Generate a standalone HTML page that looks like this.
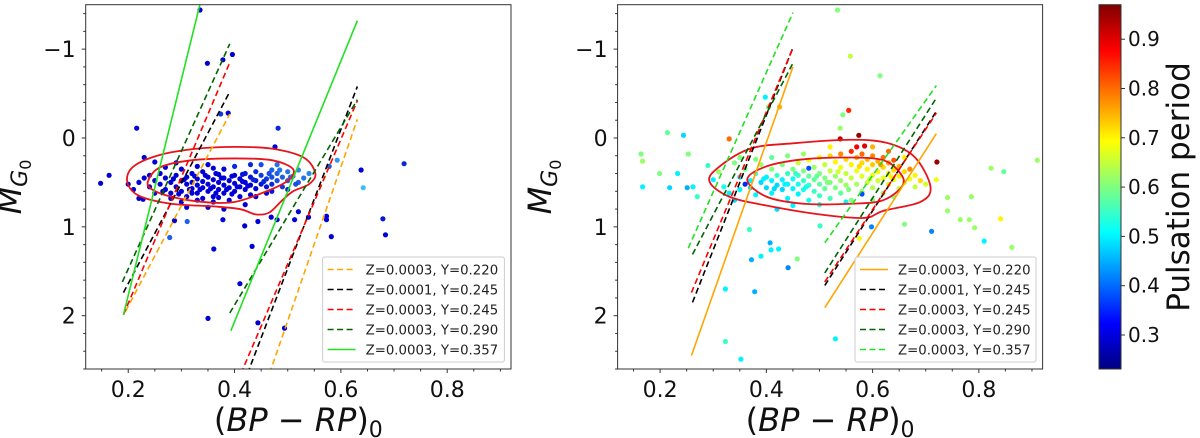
<!DOCTYPE html>
<html><head><meta charset="utf-8">
<style>
html,body{margin:0;padding:0;background:#fff;}
svg{display:block;font-family:"DejaVu Sans","Liberation Sans",sans-serif;}
</style></head>
<body>
<svg id="fig" width="1200" height="438" viewBox="0 0 1200 438" xmlns="http://www.w3.org/2000/svg"></svg>
<script>
// ---------- data ----------
const xTicks = [0.2, 0.4, 0.6, 0.8];
const yTicks = [-1, 0, 1, 2];
const cbTicks = [0.3, 0.4, 0.5, 0.6, 0.7, 0.8, 0.9];
const legendLabels = ["Z=0.0003, Y=0.220","Z=0.0001, Y=0.245","Z=0.0003, Y=0.245","Z=0.0003, Y=0.290","Z=0.0003, Y=0.357"];
// left panel tracks: [x1,y1,x2,y2]
const leftOrange = [[0.195,1.95,0.391,-0.27],[0.46,2.75,0.631,-0.21]];
const leftBlack  = [[0.191,1.74,0.391,-0.52],[0.418,2.75,0.631,-0.58]];
const leftRed    = [[0.191,1.99,0.391,-0.85],[0.405,2.75,0.631,-0.42]];
const leftDkGreen= [[0.189,1.62,0.391,-1.06],[0.391,1.97,0.631,-0.43]];
const leftLime   = [[0.191,1.99,0.345,-1.75],[0.393,2.17,0.631,-1.32]];
// right panel tracks
const rightOrange = [[0.259,2.45,0.450,-0.80],[0.510,1.91,0.720,-0.05]];
const rightBlack  = [[0.261,1.85,0.449,-1.00],[0.510,1.66,0.720,-0.30]];
const rightRed    = [[0.259,1.74,0.449,-1.00],[0.510,1.62,0.720,-0.28]];
const rightDkGreen= [[0.261,1.31,0.449,-0.83],[0.510,1.52,0.720,-0.45]];
const rightLime   = [[0.253,1.24,0.450,-1.41],[0.510,1.18,0.720,-0.59]];
// contours (closed, data coords)
const leftOuter = [[0.198,0.49],[0.21,0.32],[0.26,0.19],[0.33,0.12],[0.40,0.10],[0.47,0.12],[0.53,0.22],[0.552,0.40],[0.54,0.52],[0.51,0.60],[0.49,0.70],[0.465,0.84],[0.44,0.86],[0.41,0.80],[0.36,0.77],[0.28,0.74],[0.22,0.65]];
const leftInner = [[0.237,0.49],[0.26,0.33],[0.32,0.25],[0.40,0.23],[0.47,0.25],[0.51,0.35],[0.50,0.48],[0.46,0.60],[0.40,0.72],[0.34,0.72],[0.28,0.66],[0.245,0.58]];
const rightOuter = [[0.293,0.49],[0.31,0.33],[0.37,0.12],[0.45,0.06],[0.56,0.02],[0.63,0.06],[0.68,0.22],[0.709,0.55],[0.69,0.72],[0.62,0.82],[0.584,0.90],[0.50,0.86],[0.40,0.76],[0.33,0.66]];
const rightInner = [[0.364,0.47],[0.40,0.32],[0.47,0.24],[0.56,0.22],[0.62,0.25],[0.65,0.38],[0.657,0.53],[0.62,0.70],[0.56,0.74],[0.47,0.74],[0.40,0.66]];
// left scatter [x, y, shade(0 dark blue ..1 light blue)]
const leftPts = [[0.335,-1.44,0],[0.349,-0.84,0],[0.378,-0.88,0],[0.396,-0.94,0],[0.388,-0.28,0],[0.374,-0.27,0.3],[0.216,-0.11,0],[0.482,-0.11,0.2],[0.476,0.10,0],[0.148,0.51,0],[0.164,0.42,0],[0.719,0.29,0.2],[0.638,0.36,0],[0.642,0.56,1],[0.679,0.91,0.1],[0.684,1.09,0],[0.582,1.11,0],[0.573,0.92,0],[0.573,0.88,0],[0.593,0.25,0.8],[0.578,0.32,0.5],[0.539,0.89,0],[0.513,0.92,0],[0.52,0.83,0],[0.469,0.89,0],[0.48,0.92,0],[0.444,0.94,0],[0.419,0.99,0],[0.433,1.22,0],[0.361,1.25,0],[0.278,1.12,0.5],[0.311,0.94,0.5],[0.378,0.92,0],[0.287,0.93,0],[0.350,2.03,0],[0.41,1.64,0],[0.444,2.08,0],[0.494,2.14,0],[0.228,0.69,0],[0.23,0.22,0],
[0.22,0.50,0],[0.23,0.45,0],[0.24,0.55,0],[0.25,0.48,0],[0.26,0.52,0],[0.26,0.40,0],[0.27,0.58,0],[0.27,0.45,0],[0.28,0.50,0],[0.28,0.62,0],[0.29,0.42,0],[0.29,0.55,0],[0.30,0.48,0],[0.30,0.35,0],[0.30,0.60,0],[0.31,0.52,0],[0.31,0.44,0],[0.31,0.66,0],[0.32,0.40,0],[0.32,0.50,0],[0.32,0.57,0],[0.33,0.46,0],[0.33,0.53,0],[0.33,0.62,0],[0.34,0.38,0],[0.34,0.49,0],[0.34,0.56,0],[0.35,0.44,0],[0.35,0.52,0],[0.35,0.60,0],[0.35,0.30,0],[0.36,0.47,0],[0.36,0.55,0],[0.36,0.66,0],[0.37,0.41,0],[0.37,0.50,0],[0.37,0.58,0],[0.38,0.45,0],[0.38,0.53,0],[0.38,0.62,0],[0.38,0.35,0],[0.39,0.48,0],[0.39,0.56,0],[0.40,0.42,0],[0.40,0.51,0],[0.40,0.60,0],[0.40,0.32,0.2],[0.41,0.46,0],[0.41,0.55,0],[0.42,0.40,0.1],[0.42,0.50,0],[0.42,0.58,0],[0.43,0.44,0.1],[0.43,0.53,0],[0.43,0.64,0],[0.44,0.38,0.2],[0.44,0.48,0.1],[0.44,0.57,0],[0.45,0.42,0.3],[0.45,0.52,0.1],[0.45,0.30,0.4],[0.46,0.46,0.3],[0.46,0.55,0.1],[0.47,0.36,0.5],[0.47,0.44,0.4],[0.47,0.52,0.2],[0.48,0.40,0.5],[0.48,0.48,0.4],[0.48,0.30,0.6],[0.49,0.44,0.5],[0.49,0.55,0.3],[0.50,0.38,0.6],[0.50,0.48,0.5],[0.51,0.43,0.6],[0.52,0.36,0.7],[0.52,0.50,0.5],[0.53,0.45,0.6],[0.54,0.40,0.7],[0.41,0.66,0],[0.39,0.70,0],[0.36,0.72,0],[0.33,0.70,0],[0.30,0.72,0],[0.28,0.68,0],[0.25,0.62,0],[0.24,0.42,0],[0.27,0.33,0],[0.33,0.32,0],[0.36,0.34,0],[0.43,0.30,0.2],[0.46,0.62,0],[0.44,0.66,0],[0.50,0.58,0.2],[0.47,0.60,0.1],[0.25,0.27,0],[0.29,0.28,0],[0.35,0.78,0],[0.31,0.78,0],[0.38,0.80,0],[0.42,0.75,0],[0.21,0.58,0],[0.20,0.52,0],[0.22,0.68,0],[0.32,0.62,0],[0.34,0.68,0],[0.37,0.67,0],[0.305,0.47,0],[0.315,0.58,0],[0.345,0.42,0],[0.355,0.57,0],[0.365,0.40,0],[0.385,0.58,0],[0.395,0.43,0],[0.405,0.55,0],[0.415,0.41,0.1],[0.425,0.54,0],[0.435,0.47,0.2],[0.455,0.49,0.2],[0.465,0.40,0.4],[0.485,0.36,0.6],[0.505,0.44,0.6],[0.515,0.52,0.4],[0.325,0.43,0],[0.335,0.58,0],[0.375,0.45,0],[0.365,0.62,0],[0.395,0.63,0],[0.415,0.49,0],[0.285,0.46,0],[0.295,0.63,0],[0.265,0.60,0]];
// right scatter [x, y, period]
const rightPts = [[0.164,0.18,0.6],[0.167,0.26,0.62],[0.167,0.55,0.5],[0.199,0.40,0.6],[0.214,-0.06,0.58],[0.244,-0.03,0.48],[0.253,0.18,0.6],[0.218,0.56,0.48],[0.251,0.56,0.45],[0.262,0.55,0.5],[0.270,0.66,0.55],[0.233,0.40,0.5],[0.33,0.01,0.8],[0.398,-0.46,0.5],[0.404,-0.35,0.6],[0.425,-0.35,0.75],[0.558,-0.92,0.65],[0.614,-0.70,0.6],[0.534,-1.44,0.6],[0.555,-0.31,0.85],[0.544,-0.26,0.6],[0.539,-0.11,0.62],[0.539,0.01,0.92],[0.574,-0.03,0.95],[0.585,0.09,0.9],[0.721,0.27,0.95],[0.91,0.25,0.62],[0.823,0.34,0.62],[0.847,0.38,0.58],[0.741,0.67,0.62],[0.741,0.82,0.62],[0.786,0.66,0.62],[0.765,0.92,0.62],[0.782,0.92,0.62],[0.792,1.01,0.62],[0.841,0.91,0.7],[0.862,1.23,0.62],[0.81,1.16,0.5],[0.711,1.05,0.42],[0.66,0.97,0.6],[0.598,1.00,0.42],[0.575,1.13,0.68],[0.501,0.99,0.55],[0.458,1.36,0.6],[0.423,1.25,0.5],[0.407,1.18,0.45],[0.409,1.26,0.5],[0.390,1.33,0.5],[0.372,1.37,0.45],[0.368,1.03,0.55],[0.378,1.73,0.45],[0.323,1.70,0.5],[0.323,2.29,0.55],[0.352,2.49,0.5],[0.53,2.26,0.5],[0.441,1.46,0.42],[0.29,0.31,0.55],[0.30,0.47,0.5],[0.31,0.38,0.62],[0.32,0.55,0.52],[0.33,0.62,0.5],[0.34,0.28,0.6],[0.34,0.70,0.48],[0.35,0.44,0.5],[0.35,0.58,0.5],[0.36,0.35,0.6],
[0.37,0.48,0.5],[0.37,0.56,0.48],[0.38,0.40,0.55],[0.38,0.64,0.5],[0.39,0.30,0.62],[0.39,0.50,0.48],[0.40,0.44,0.5],[0.40,0.56,0.48],[0.41,0.35,0.6],[0.41,0.48,0.5],[0.41,0.62,0.5],[0.42,0.42,0.55],[0.42,0.53,0.48],[0.43,0.30,0.6],[0.43,0.47,0.5],[0.43,0.58,0.48],[0.44,0.40,0.55],[0.44,0.52,0.5],[0.44,0.68,0.5],[0.45,0.35,0.6],[0.45,0.46,0.52],[0.45,0.57,0.5],[0.46,0.28,0.65],[0.46,0.42,0.55],[0.46,0.52,0.52],[0.46,0.63,0.5],[0.47,0.37,0.6],[0.47,0.48,0.55],[0.47,0.58,0.52],[0.48,0.25,0.68],[0.48,0.43,0.58],[0.48,0.53,0.55],[0.48,0.70,0.52],[0.49,0.33,0.62],[0.49,0.47,0.58],[0.49,0.60,0.55],[0.50,0.22,0.7],[0.50,0.40,0.6],[0.50,0.52,0.58],[0.50,0.65,0.55],[0.51,0.30,0.65],[0.51,0.45,0.6],[0.51,0.57,0.58],[0.52,0.20,0.72],[0.52,0.37,0.65],[0.52,0.50,0.6],[0.52,0.68,0.56],[0.53,0.27,0.7],[0.53,0.43,0.62],[0.53,0.56,0.6],[0.54,0.18,0.78],[0.54,0.33,0.68],[0.54,0.48,0.62],[0.54,0.62,0.58],[0.55,0.24,0.72],[0.55,0.40,0.65],[0.55,0.53,0.62],[0.56,0.15,0.85],[0.56,0.30,0.7],[0.56,0.45,0.65],[0.56,0.70,0.6],[0.57,0.22,0.75],[0.57,0.37,0.68],[0.57,0.52,0.63],[0.58,0.18,0.8],[0.58,0.28,0.72],[0.58,0.43,0.67],[0.58,0.60,0.62],[0.59,0.24,0.75],[0.59,0.35,0.7],[0.59,0.50,0.65],[0.60,0.20,0.78],[0.60,0.30,0.73],[0.60,0.42,0.68],[0.60,0.56,0.64],[0.61,0.26,0.75],[0.61,0.38,0.7],[0.61,0.48,0.66],[0.62,0.22,0.8],[0.62,0.33,0.72],[0.62,0.45,0.68],[0.62,0.62,0.62],[0.63,0.28,0.76],[0.63,0.40,0.7],[0.63,0.52,0.66],[0.64,0.25,0.82],[0.64,0.36,0.72],[0.64,0.47,0.68],[0.65,0.32,0.75],[0.65,0.43,0.7],[0.65,0.57,0.65],[0.66,0.38,0.72],[0.66,0.50,0.66],[0.67,0.35,0.78],[0.67,0.46,0.68],[0.68,0.42,0.7],[0.68,0.55,0.65],[0.69,0.48,0.72],[0.70,0.52,0.66],[0.72,0.47,0.68],[0.36,0.52,0.35],[0.48,0.34,0.38],[0.58,0.63,0.38],[0.55,0.72,0.5],[0.50,0.75,0.52],[0.45,0.76,0.5],[0.42,0.80,0.48],[0.60,0.70,0.6],[0.64,0.66,0.6],[0.47,0.18,0.62],[0.44,0.20,0.6],[0.41,0.22,0.58],[0.38,0.24,0.6],[0.35,0.22,0.6],[0.52,0.10,0.7],[0.57,0.10,0.88],[0.60,0.10,0.75],[0.63,0.15,0.8],[0.66,0.22,0.7],[0.395,0.46,0.5],[0.415,0.57,0.48],[0.435,0.52,0.5],[0.455,0.40,0.55],[0.475,0.55,0.52],[0.495,0.43,0.58],[0.515,0.50,0.6],[0.535,0.38,0.66],[0.555,0.58,0.6],[0.575,0.32,0.72],[0.595,0.46,0.66],[0.615,0.30,0.76],[0.635,0.44,0.7]];

// ---------- helpers ----------
const NS = "http://www.w3.org/2000/svg";
const svg = document.getElementById('fig');
function mk(tag, attrs, parent){const e=document.createElementNS(NS,tag);for(const k in attrs)e.setAttribute(k,attrs[k]);(parent||svg).appendChild(e);return e;}
function jet(t){t=Math.max(0,Math.min(1,t));const c=v=>Math.round(255*Math.max(0,Math.min(1,v)));
  return `rgb(${c(1.5-Math.abs(4*t-3))},${c(1.5-Math.abs(4*t-2))},${c(1.5-Math.abs(4*t-1))})`;}
const PMIN=0.231, PMAX=0.97;
const XMIN=0.12, XMAX=0.92, YMIN=-1.5, YMAX=2.6;
const TOP=4.7, BOT=369;

function panel(id, L, R, tracks, styles, outer, inner, pts, colorFn, legendBox, yLabelX, legendDash){
  const g = mk('g',{});
  
  
  const sx = v => L + (v-XMIN)/(XMAX-XMIN)*(R-L);
  const sy = v => TOP + (v-YMIN)/(YMAX-YMIN)*(BOT-TOP);
  const clip = mk('clipPath',{id:id+'-clip'},g);
  mk('rect',{x:L,y:TOP,width:R-L,height:BOT-TOP},clip);
  const plot = mk('g',{'clip-path':`url(#${id}-clip)`},g);
  
  
  pts.forEach(p=>{
    const c = mk('circle',{cx:sx(p[0]).toFixed(1),cy:sy(p[1]).toFixed(1),r:2.6,fill:colorFn(p[2])},plot);
    
    
  });
  [outer,inner].forEach((poly,i)=>{
    const P = poly.map(q=>[sx(q[0]),sy(q[1])]); const n=P.length;
    let d=`M${P[0][0]},${P[0][1]}`;
    for(let k=0;k<n;k++){const p0=P[(k-1+n)%n],p1=P[k],p2=P[(k+1)%n],p3=P[(k+2)%n];
      d+=` C${p1[0]+(p2[0]-p0[0])/6},${p1[1]+(p2[1]-p0[1])/6} ${p2[0]-(p3[0]-p1[0])/6},${p2[1]-(p3[1]-p1[1])/6} ${p2[0]},${p2[1]}`;}
    const c = mk('path',{d:d+'Z',fill:'none',stroke:'#e8141c','stroke-width':1.8},plot);
    
    
  });
  tracks.forEach((set,si)=>{
    set.forEach(t=>{
      const st=styles[si];
      const l = mk('line',{x1:sx(t[0]),y1:sy(t[1]),x2:sx(t[2]),y2:sy(t[3]),stroke:st.c,'stroke-width':1.6},plot);
      if(st.dash) l.setAttribute('stroke-dasharray','6,3.5');
      
      
    });
  });
  const fr = mk('rect',{x:L,y:TOP,width:R-L,height:BOT-TOP,fill:'none',stroke:'#333','stroke-width':1},g);
  
  
  for(let v=0.15; v<0.92; v+=0.05){ const x=sx(v); const major=xTicks.some(t=>Math.abs(t-v)<1e-6);
    mk('line',{x1:x,y1:BOT,x2:x,y2:BOT+(major?4:2.5),stroke:'#333','stroke-width':1},g);}
  xTicks.forEach(v=>{const t=mk('text',{x:sx(v),y:397,'font-size':22,'text-anchor':'middle',fill:'#111'},g);t.textContent=v.toFixed(1);
    });
  for(let k=-14;k<=26;k+=2){const v=k/10; const y=sy(v); const major=yTicks.some(t=>Math.abs(t-v)<1e-6);
    mk('line',{x1:L,y1:y,x2:L-(major?4:2.5),y2:y,stroke:'#333','stroke-width':1},g);}
  yTicks.forEach(v=>{const t=mk('text',{x:L-10,y:sy(v)+8,'font-size':22,'text-anchor':'end',fill:'#111'},g);t.textContent=v<0?'\u2212'+Math.abs(v):String(v);
    });
  const xl = mk('text',{x:(L+R)/2,y:431,'font-size':32,'text-anchor':'middle',fill:'#111'},g);
  
  xl.innerHTML = '(<tspan font-style="italic">BP</tspan> \u2212 <tspan font-style="italic">RP</tspan>)<tspan font-size="22" dy="6">0</tspan>';
  const yl = mk('text',{x:0,y:0,'font-size':32,'text-anchor':'middle',fill:'#111',transform:`translate(${yLabelX},187) rotate(-90)`},g);
  
  yl.innerHTML = '<tspan font-style="italic">M</tspan><tspan font-style="italic" font-size="22" dy="6">G</tspan><tspan font-size="16" dy="4">0</tspan>';
  const [lx,ly,lw,lh]=legendBox;
  const lg = mk('g',{},g);  
  mk('rect',{x:lx,y:ly,width:lw,height:lh,fill:'#fff','fill-opacity':0.85,stroke:'#ccc','stroke-width':1,rx:2},lg);
  legendLabels.forEach((lab,i)=>{const y=ly+12.5+i*20; const st=legendDash[i];
    const e = mk('g',{},lg);  
    const l=mk('line',{x1:lx+5,y1:y,x2:lx+33,y2:y,stroke:st.c,'stroke-width':1.6},e); if(st.dash) l.setAttribute('stroke-dasharray','6,3.5');
    const t=mk('text',{x:lx+43,y:y+5,'font-size':13.3,fill:'#222'},e); t.textContent=lab;});
}

const lStyles=[{c:'#ffa500',dash:1},{c:'#000',dash:1},{c:'#ff0000',dash:1},{c:'#006400',dash:1},{c:'#22e022',dash:0}];
const rStyles=[{c:'#ffa500',dash:0},{c:'#000',dash:1},{c:'#ff0000',dash:1},{c:'#006400',dash:1},{c:'#22e022',dash:1}];
const blueFn = s => { const a=[0,0,214],b=[60,190,245]; return `rgb(${a.map((v,i)=>Math.round(v+(b[i]-v)*s)).join(',')})`; };
panel('left-panel',85.7,511,[leftOrange,leftBlack,leftRed,leftDkGreen,leftLime],lStyles,leftOuter,leftInner,leftPts,blueFn,[322.6,257,181.8,105],21,lStyles);
panel('right-panel',617.6,1042.6,[rightOrange,rightBlack,rightRed,rightDkGreen,rightLime],rStyles,rightOuter,rightInner,rightPts,p=>jet((p-PMIN)/(PMAX-PMIN)),[855,257,181,105],551,rStyles);

// colorbar
const cbX=1099, cbW=22;
const cbg = mk('g',{});  
const defs = mk('defs',{},cbg);
const grad = mk('linearGradient',{id:'jetgrad',x1:0,y1:1,x2:0,y2:0},defs);
for(let i=0;i<=24;i++){mk('stop',{offset:(i/24).toFixed(3),'stop-color':jet(i/24)},grad);}
mk('rect',{x:cbX,y:TOP,width:cbW,height:BOT-TOP,fill:'url(#jetgrad)',stroke:'#333','stroke-width':1},cbg);
const cy = v => BOT - (v-PMIN)/(PMAX-PMIN)*(BOT-TOP);
cbTicks.forEach(v=>{mk('line',{x1:cbX+cbW,y1:cy(v),x2:cbX+cbW+4,y2:cy(v),stroke:'#333'},cbg);
  const t=mk('text',{x:cbX+cbW+7,y:cy(v)+7,'font-size':20,fill:'#111'},cbg);t.textContent=v.toFixed(1);
  });
const cbl = mk('text',{x:0,y:0,'font-size':31,'text-anchor':'middle',fill:'#111',transform:'translate(1189,187) rotate(-90)'},cbg);
cbl.textContent='Pulsation period';

</script>
</body></html>
